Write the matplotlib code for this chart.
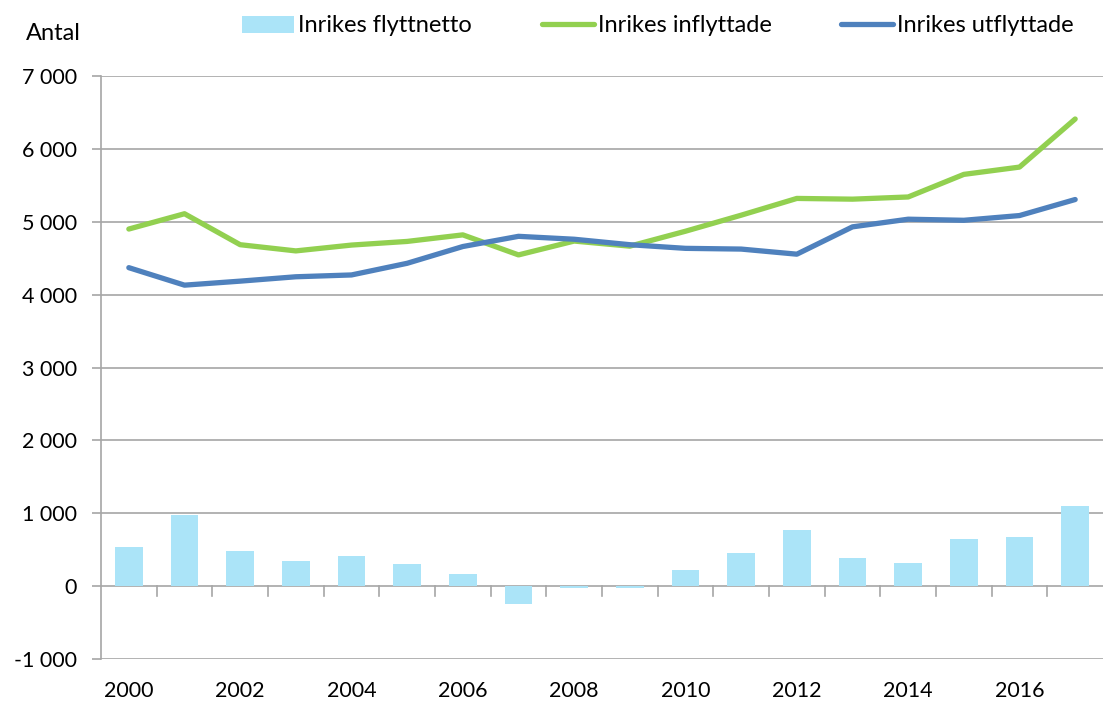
import matplotlib
matplotlib.use("Agg")
import matplotlib.pyplot as plt
import numpy as np

years = list(range(2000, 2018))
netto = [540, 970, 485, 350, 415, 300, 160, -250, -25, -25, 215, 450, 770, 385, 315, 650, 670, 1100]
inflyttade = [4900, 5110, 4685, 4600, 4680, 4730, 4820, 4545, 4735, 4665, 4870, 5090, 5320, 5310, 5340, 5650, 5750, 6410]
utflyttade = [4370, 4130, 4185, 4245, 4270, 4430, 4660, 4800, 4760, 4685, 4635, 4625, 4555, 4930, 5035, 5020, 5085, 5305]
yticks = [-1000, 0, 1000, 2000, 3000, 4000, 5000, 6000, 7000]
ytick_labels = ["-1 000", "0", "1 000", "2 000", "3 000", "4 000", "5 000", "6 000", "7 000"]
xtick_labels = [str(y) if y % 2 == 0 else "" for y in years]

plt.rcParams['font.family'] = ['Lato', 'DejaVu Sans']

fig = plt.figure(figsize=(11.08, 7.08), dpi=100)
ax = fig.add_axes([101/1108, 49/708, 1002/1108, 583/708])

x = np.arange(len(years))
grid_c = "#A6A6A6"
for yv in yticks:
    ax.axhline(yv, color=grid_c, lw=1.2, zorder=0)

hb = ax.bar(x, netto, width=0.5, color="#ABE4F8", zorder=2, label="Inrikes flyttnetto")
hg, = ax.plot(x, inflyttade, color="#92D050", lw=3.8, zorder=3, label="Inrikes inflyttade",
              solid_capstyle="round")
hu, = ax.plot(x, utflyttade, color="#4F81BD", lw=3.8, zorder=4, label="Inrikes utflyttade",
              solid_capstyle="round")

ax.set_xlim(-0.5, len(years) - 0.5)
ax.set_ylim(-1000, 7000)
ax.set_yticks(yticks)
ax.set_yticklabels(ytick_labels)
ax.tick_params(axis='y', length=6.5, color=grid_c, width=1.2, labelsize=15.5, pad=11)

# category axis at 0, ticks between categories
ax.set_xticks(x)
ax.set_xticklabels(xtick_labels)
ax.tick_params(axis='x', length=0, labelsize=15.5, pad=16)
for b in np.arange(0.5, len(years) - 0.5, 1.0):
    ax.plot([b, b], [0, -135], color=grid_c, lw=1.2, zorder=1, clip_on=False)

for s in ["top", "right", "bottom"]:
    ax.spines[s].set_visible(False)
ax.spines["left"].set_color(grid_c)
ax.spines["left"].set_linewidth(1.2)

fig.text(53/1108, 1 - 40/708, "Antal", fontsize=17, ha="center", va="baseline")

leg = fig.legend(handles=[hb, hg, hu], loc="center", bbox_to_anchor=(658/1108, 1 - 26/708), ncol=3,
                 frameon=False, fontsize=17, handlelength=2.2, handletextpad=0.17,
                 columnspacing=2.95, borderpad=0, borderaxespad=0)

fig.savefig("out.png", dpi=100)
